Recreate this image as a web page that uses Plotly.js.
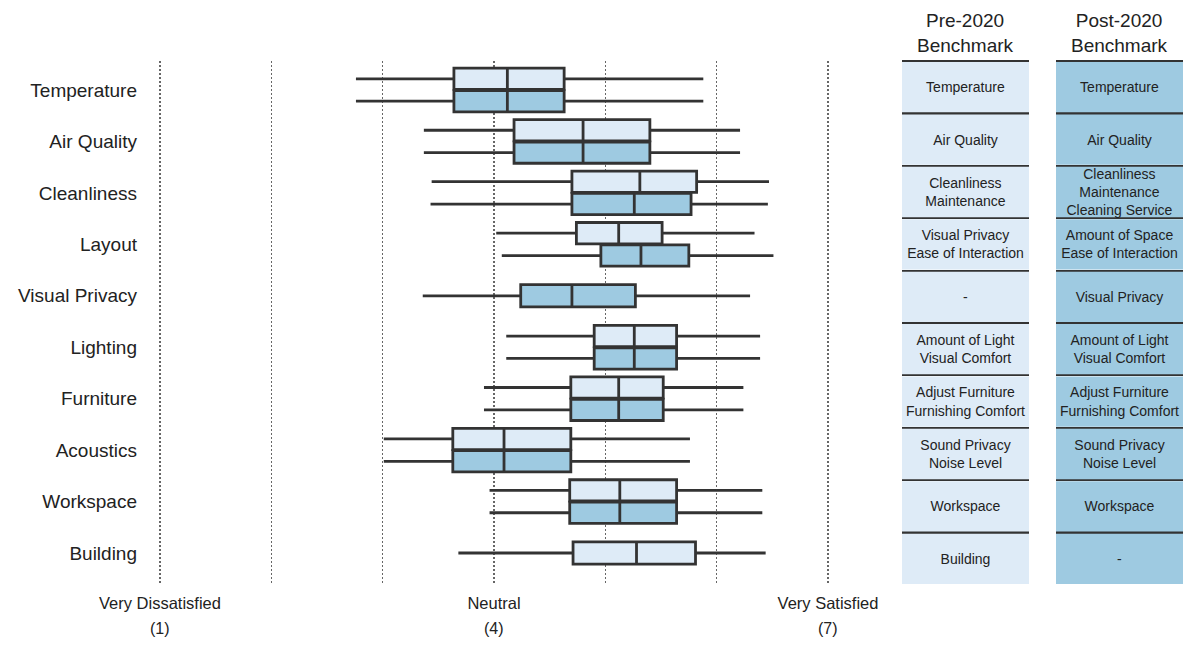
<!DOCTYPE html>
<html>
<head>
<meta charset="utf-8">
<script src="https://cdn.plot.ly/plotly-3.0.1.min.js"></script>
<style>html,body{margin:0;padding:0;background:#fff;}#chart{width:1200px;height:645px;}</style>
</head>
<body>
<div id="chart"></div>
<script>
// Categories (top to bottom)
const categories = ["Temperature","Air Quality","Cleanliness","Layout","Visual Privacy","Lighting","Furniture","Acoustics","Workspace","Building"];

// Pre-2020 benchmark (paired categories)
const preCats   = ["Temperature","Air Quality","Cleanliness","Layout","Lighting","Furniture","Acoustics","Workspace"];
const preLow    = [2.76, 3.37, 3.44, 4.02, 4.11, 3.91, 3.01, 3.96];
const preQ1     = [3.64, 4.18, 4.70, 4.74, 4.90, 4.69, 3.63, 4.68];
const preMed    = [4.12, 4.80, 5.31, 5.12, 5.26, 5.12, 4.09, 5.13];
const preQ3     = [4.63, 5.40, 5.82, 5.51, 5.64, 5.52, 4.69, 5.64];
const preHigh   = [5.88, 6.21, 6.47, 6.34, 6.39, 6.24, 5.76, 6.41];

// Post-2020 benchmark (paired categories)
const postCats  = ["Temperature","Air Quality","Cleanliness","Layout","Lighting","Furniture","Acoustics","Workspace"];
const postLow   = [2.76, 3.37, 3.43, 4.07, 4.11, 3.91, 3.01, 3.96];
const postQ1    = [3.64, 4.18, 4.70, 4.96, 4.90, 4.69, 3.63, 4.68];
const postMed   = [4.12, 4.80, 5.26, 5.32, 5.26, 5.12, 4.09, 5.13];
const postQ3    = [4.63, 5.40, 5.77, 5.75, 5.64, 5.52, 4.69, 5.64];
const postHigh  = [5.88, 6.21, 6.46, 6.51, 6.39, 6.24, 5.76, 6.41];

// Single-series categories
const preOnlyCats  = ["Building"];
const preOnlyLow   = [3.68];
const preOnlyQ1    = [4.71];
const preOnlyMed   = [5.28];
const preOnlyQ3    = [5.81];
const preOnlyHigh  = [6.44];

const postOnlyCats = ["Visual Privacy"];
const postOnlyLow  = [3.36];
const postOnlyQ1   = [4.24];
const postOnlyMed  = [4.70];
const postOnlyQ3   = [5.27];
const postOnlyHigh = [6.30];

// Axis tick labels
const xTickVals = [1,2,3,4,5,6,7];
const xTickText = ["Very Dissatisfied","","","Neutral","","","Very Satisfied"];
const xSubVals  = [1,4,7];
const xSubText  = ["(1)","(4)","(7)"];

// Table columns
const preTableHeader  = "Pre-2020<br>Benchmark";
const postTableHeader = "Post-2020<br>Benchmark";
const preTable  = ["Temperature","Air Quality","Cleanliness<br>Maintenance","Visual Privacy<br>Ease of Interaction","-","Amount of Light<br>Visual Comfort","Adjust Furniture<br>Furnishing Comfort","Sound Privacy<br>Noise Level","Workspace","Building"];
const postTable = ["Temperature","Air Quality","Cleanliness<br>Maintenance<br>Cleaning Service","Amount of Space<br>Ease of Interaction","Visual Privacy","Amount of Light<br>Visual Comfort","Adjust Furniture<br>Furnishing Comfort","Sound Privacy<br>Noise Level","Workspace","-"];

const PRE_FILL = "#deebf7";
const POST_FILL = "#9ecae1";
const LINE = "#333333";
const FONT = "Liberation Sans, Arial, sans-serif";

function boxTrace(cats, lo, q1, med, q3, hi, fill, extra) {
  return Object.assign({
    type: "box", orientation: "h",
    y: cats, q1: q1, median: med, q3: q3, lowerfence: lo, upperfence: hi,
    boxpoints: false, whiskerwidth: 0,
    fillcolor: fill, line: {color: LINE, width: 2.8},
    xaxis: "x", yaxis: "y", hoverinfo: "skip", showlegend: false
  }, extra);
}

const data = [
  boxTrace(preCats, preLow, preQ1, preMed, preQ3, preHigh, PRE_FILL, {alignmentgroup: "paired", offsetgroup: "pre", name: "Pre-2020"}),
  boxTrace(postCats, postLow, postQ1, postMed, postQ3, postHigh, POST_FILL, {alignmentgroup: "paired", offsetgroup: "post", name: "Post-2020"}),
  boxTrace(preOnlyCats, preOnlyLow, preOnlyQ1, preOnlyMed, preOnlyQ3, preOnlyHigh, PRE_FILL, {width: 0.43, alignmentgroup: "single", offsetgroup: "single", name: "Pre-2020 only"}),
  boxTrace(postOnlyCats, postOnlyLow, postOnlyQ1, postOnlyMed, postOnlyQ3, postOnlyHigh, POST_FILL, {width: 0.43, alignmentgroup: "single", offsetgroup: "single", name: "Post-2020 only"}),
  {
    type: "bar", orientation: "h", y: categories, x: categories.map(() => 1),
    width: 0.96, marker: {color: PRE_FILL, line: {width: 0}},
    text: preTable, textposition: "inside", insidetextanchor: "middle", constraintext: "none",
    textfont: {family: FONT, size: 14, color: "#222"},
    xaxis: "x2", yaxis: "y2", hoverinfo: "skip", showlegend: false
  },
  {
    type: "bar", orientation: "h", y: categories, x: categories.map(() => 1),
    width: 0.96, marker: {color: POST_FILL, line: {width: 0}},
    text: postTable, textposition: "inside", insidetextanchor: "middle", constraintext: "none",
    textfont: {family: FONT, size: 14, color: "#222"},
    xaxis: "x3", yaxis: "y2", hoverinfo: "skip", showlegend: false
  }
];

const L = 145, R = 15, W = 1200;
const T = 59, B = 58, H = 645;
const PW = W - L - R;
const PH = H - T - B;
const px2frac = p => (p - L) / PW;
const py2frac = p => (H - B - p) / PH;

const subAnnots = xSubVals.map((v, i) => ({
  text: xSubText[i], xref: "x", x: v, yref: "y domain", y: 0, yanchor: "middle", xanchor: "center",
  yshift: -43, showarrow: false, font: {size: 16, color: "#222"}
}));

const layout = {
  width: 1200, height: 645,
  margin: {l: L, r: R, t: T, b: B},
  paper_bgcolor: "#fff", plot_bgcolor: "rgba(0,0,0,0)",
  font: {family: FONT, color: "#222"},
  boxmode: "group", boxgap: 0.13, boxgroupgap: 0.05,
  barmode: "overlay",
  showlegend: false,
  xaxis: {
    domain: [0, px2frac(880)], range: [1 - 15/111.33, 7 + 52/111.33],
    tickvals: xTickVals, ticktext: xTickText, ticks: "", ticklabelstandoff: 6,
    tickfont: {size: 16.5, color: "#222"},
    showgrid: true, gridcolor: "#666", gridwidth: 1.2, griddash: "2px,2px",
    zeroline: false, showline: false, anchor: "y"
  },
  yaxis: {
    type: "category", categoryorder: "array", categoryarray: categories,
    domain: [py2frac(585), py2frac(61)],
    range: [9.622, -0.5638], ticks: "", ticklabelstandoff: 7, tickfont: {size: 19, color: "#222"},
    showgrid: false, zeroline: false, showline: false, anchor: "x"
  },
  xaxis2: {domain: [px2frac(902), px2frac(1029)], range: [0, 1], visible: false, anchor: "y2"},
  xaxis3: {domain: [px2frac(1056), px2frac(1183)], range: [0, 1], visible: false, anchor: "y2"},
  yaxis2: {
    type: "category", categoryorder: "array", categoryarray: categories,
    range: [9.5 + 2/52.4, -0.5 - 2/52.4], domain: [0, 1], anchor: "x2",
    tickson: "boundaries", ticks: "", showticklabels: false,
    showgrid: true, gridcolor: "#333", gridwidth: 2.2, zeroline: false, showline: false
  },
  annotations: [
    {text: preTableHeader, xref: "x2 domain", x: 0.5, yref: "paper", y: 1, yanchor: "bottom", xanchor: "center",
     showarrow: false, font: {size: 19, color: "#222"}, yshift: 1},
    {text: postTableHeader, xref: "x3 domain", x: 0.5, yref: "paper", y: 1, yanchor: "bottom", xanchor: "center",
     showarrow: false, font: {size: 19, color: "#222"}, yshift: 1}
  ].concat(subAnnots)
};

Plotly.newPlot("chart", data, layout, {staticPlot: true});
</script>
</body>
</html>
